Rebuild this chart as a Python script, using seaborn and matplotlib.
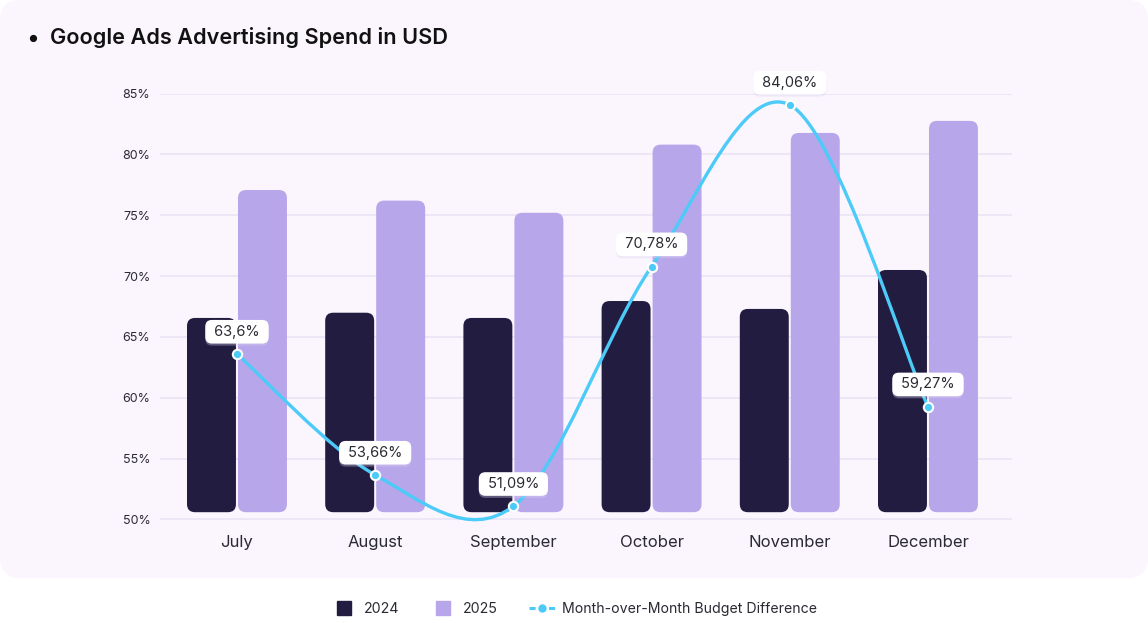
import numpy as np
import pandas as pd
import matplotlib
matplotlib.use("Agg")
import matplotlib.pyplot as plt
import matplotlib.patheffects as pe
import seaborn as sns
from matplotlib.patches import FancyBboxPatch, PathPatch
from matplotlib.path import Path
from matplotlib.lines import Line2D

# values (percent)
months = ["July", "August", "September", "October", "November", "December"]
spend_2024 = [66.56, 66.99, 66.56, 67.95, 67.3, 70.5]
spend_2025 = [77.07, 76.2, 75.2, 80.8, 81.76, 82.75]
mom_diff = [63.6, 53.66, 51.09, 70.78, 84.06, 59.27]
mom_labels = ["63,6%", "53,66%", "51,09%", "70,78%", "84,06%", "59,27%"]
years = ["2024", "2025"]

DARK = "#221c41"
LILAC = "#b8a6eb"
CYAN = "#4ccbf8"
PANEL = "#fbf5fe"
GRID = "#ebe5f7"
TEXT = "#2a2a33"
BASE = 50.6  # bars sit a little above the 50% line

sns.set_theme(style="white")
plt.rcParams["font.family"] = ["Inter", "DejaVu Sans"]

df = pd.DataFrame({
    "month": months * 2,
    "year": [years[0]] * len(months) + [years[1]] * len(months),
    "value": spend_2024 + spend_2025,
})

W, H = 1148, 623
fig = plt.figure(figsize=(W / 100, H / 100), dpi=100)
fig.patch.set_facecolor("white")

# lavender card behind the chart
panel = FancyBboxPatch((0, 1 - 578 / H), 1, 578 / H,
                       boxstyle="round,pad=0,rounding_size=0.018",
                       mutation_aspect=W / H, transform=fig.transFigure,
                       facecolor=PANEL, edgecolor="none", zorder=0)
fig.add_artist(panel)

ax = fig.add_axes([160 / W, (H - 519.5) / H, 852 / W, 426 / H])
ax.set_facecolor("none")

sns.barplot(data=df, x="month", y="value", hue="year", palette=[DARK, LILAC],
            width=0.738, gap=0.04, saturation=1, legend=False, ax=ax)

ax.set_xlim(-0.557, 5.608)
ax.set_ylim(50, 85)

# swap the square bars for rounded ones
x0, x1 = ax.get_xlim()
px_x = 852 / (x1 - x0)
px_y = 426 / 35
for bar in list(ax.patches):
    x, w, h = bar.get_x(), bar.get_width(), bar.get_height()
    rb = FancyBboxPatch((x, BASE), w, h - BASE,
                        boxstyle="round,pad=0,rounding_size=%f" % (8 / px_x),
                        mutation_aspect=px_x / px_y,
                        facecolor=bar.get_facecolor(), edgecolor="none", zorder=2)
    ax.add_patch(rb)
    bar.remove()

# smooth line (catmull-rom drawn as cubic beziers)
pts = np.column_stack([np.arange(len(mom_diff)), mom_diff]).astype(float)
ext = np.vstack([pts[0], pts, pts[-1]])
verts = [pts[0]]
codes = [Path.MOVETO]
for i in range(1, len(ext) - 2):
    p0, p1, p2, p3 = ext[i - 1], ext[i], ext[i + 1], ext[i + 2]
    verts += [p1 + (p2 - p0) / 6, p2 - (p3 - p1) / 6, p2]
    codes += [Path.CURVE4] * 3
ax.add_patch(PathPatch(Path(verts, codes), facecolor="none", edgecolor=CYAN,
                       lw=2.4, zorder=4, clip_on=False, capstyle="round"))

sns.scatterplot(x=np.arange(len(months)), y=mom_diff, s=45, color=CYAN,
                edgecolor="white", linewidth=1.5, zorder=5, ax=ax, clip_on=False)

for i, (v, lab) in enumerate(zip(mom_diff, mom_labels)):
    ann = ax.annotate(f" {lab} ", (i, v), xytext=(0, 16), textcoords="offset points",
                      ha="center", va="center", fontsize=10.5, color=TEXT, zorder=6,
                      bbox=dict(boxstyle="round,pad=0.33,rounding_size=0.45",
                                fc="white", ec="none"))
    ann.get_bbox_patch().set_path_effects(
        [pe.SimplePatchShadow(offset=(0, -1.5), shadow_rgbFace="#d8cfee", alpha=0.35),
         pe.Normal()])

# axes styling
ax.set_yticks(range(50, 90, 5))
ax.set_yticklabels([f"{t}%" for t in range(50, 90, 5)])
ax.yaxis.grid(True, color=GRID, lw=1.3)
ax.set_axisbelow(True)
ax.tick_params(axis="y", length=0, pad=7, labelsize=9, labelcolor=TEXT)
ax.tick_params(axis="x", length=0, pad=11, labelsize=12, labelcolor=TEXT)
ax.set_xlabel("")
ax.set_ylabel("")
sns.despine(ax=ax, left=True, bottom=True)

# title with bullet
fig.text(33 / W, 1 - 39 / H, "\u25CF", fontsize=7, color="#111111", va="center", ha="center")
fig.text(50 / W, 1 - 38 / H, "Google Ads Advertising Spend in USD", fontsize=15.6,
         fontweight=600, color="#111111", va="center", ha="left")

handles = [
    Line2D([], [], marker="s", ls="none", color=DARK, markersize=10),
    Line2D([], [], marker="s", ls="none", color=LILAC, markersize=10),
    Line2D([], [], color=CYAN, ls=(0, (2, 1.2)), lw=2.2, marker="o", markersize=5),
]
fig.legend(handles, years + ["Month-over-Month Budget Difference"], loc="center",
           bbox_to_anchor=(0.5, 14 / H), ncol=3, frameon=False, fontsize=10.2,
           labelcolor=TEXT, handlelength=1.8, handletextpad=0.5, columnspacing=2.2)

fig.savefig("out.png", dpi=100, facecolor="white")
